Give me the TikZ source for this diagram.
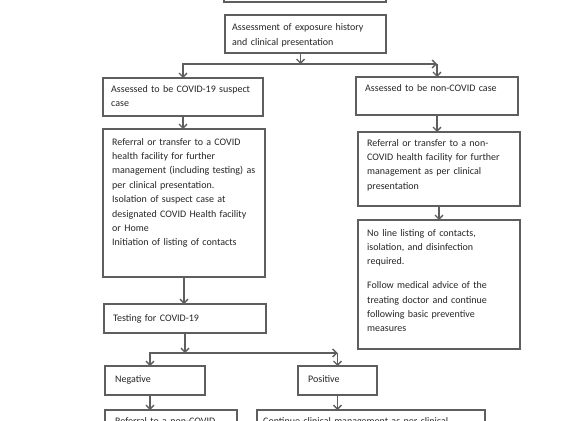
\documentclass[tikz,border=0pt]{standalone}
\usepackage{fontspec}
\setmainfont{Carlito}
\usetikzlibrary{arrows.meta}
\definecolor{ln}{HTML}{5E5E5E}
\definecolor{tx}{HTML}{262626}
\begin{document}
\begin{tikzpicture}[x=1pt,y=-1pt,
  box/.style={draw=ln, line width=1.4pt, inner sep=0pt, outer sep=0pt, anchor=north west},
  txt/.style={text=tx, inner sep=0pt, anchor=base west, text width=#1, align=left, font=\fontsize{10}{14.4}\selectfont},
  txt/.default=160pt,
  arr/.style={draw=ln, line width=1.3pt, -{Straight Barb[length=4pt,width=8pt]}}]
\useasboundingbox (0,0) rectangle (564,420);
\clip (0,0) rectangle (564,420);
\fill[white] (0,0) rectangle (564,420);

\node[box, minimum width=162, minimum height=30] (top) at (224,-28) {};
\node[box, minimum width=161, minimum height=38] (assess) at (225,15) {};
\node[txt=150pt] (tassess) at (232,31) {Assessment of exposure history\\and clinical presentation};

\node[box, minimum width=160, minimum height=38] (sus) at (103,78) {};
\node[txt] (tsus) at (111,92) {Assessed to be COVID-19 suspect\\case};
\node[box, minimum width=162, minimum height=38] (non) at (356,77) {};
\node[txt] (tnon) at (365,91) {Assessed to be non-COVID case};

\node[box, minimum width=162, minimum height=148] (ref1) at (103,129) {};
\node[txt] (tref1) at (112,145) {Referral or transfer to a COVID\\health facility for further\\management (including testing) as\\per clinical presentation.\\Isolation of suspect case at\\designated COVID Health facility\\or Home\\Initiation of listing of contacts};

\node[box, minimum width=162, minimum height=74] (ref2) at (358,132) {};
\node[txt] (tref2) at (367,146) {Referral or transfer to a non-\\COVID health facility for further\\management as per clinical\\presentation};

\node[box, minimum width=162, minimum height=129] (nolist) at (358,220) {};
\node[txt] (tnolist) at (367,236) {No line listing of contacts,\\isolation, and disinfection\\required.\\[9.5pt]Follow medical advice of the\\treating doctor and continue\\following basic preventive\\measures};

\node[box, minimum width=162, minimum height=29] (test) at (104,304) {};
\node[txt] (ttest) at (113,321) {Testing for COVID-19};

\node[box, minimum width=100, minimum height=29] (neg) at (105,366) {};
\node[txt=80pt] (tneg) at (115,382) {Negative};
\node[box, minimum width=79, minimum height=29] (pos) at (298,366) {};
\node[txt=60pt] (tpos) at (308,382) {Positive};

\node[box, minimum width=132, minimum height=40] (bl) at (105,410) {};
\node[txt=120pt] (tbl) at (115,424.5) {Referral to a non-COVID};
\node[box, minimum width=228, minimum height=40] (br) at (257,410) {};
\node[txt=220pt] (tbr) at (263,424.5) {Continue clinical management as per clinical};

\draw[arr] ([xshift=-5pt]assess.south) -- ++(0,11) coordinate (j1);
\draw[arr] (j1) -| (sus.north);
\draw[arr] (j1) -- (non.north |- j1);
\draw[arr] (non.north |- j1) -- (non.north);
\draw[arr] (sus.south) -- (sus.south |- ref1.north);
\draw[arr] (ref1.south) -- (ref1.south |- test.north);
\draw[arr] (test.south) -- ++(0,20) coordinate (j2);
\draw[arr] (j2) -| ([xshift=-5pt]neg.north);
\draw[arr] (j2) -- (pos.north |- j2);
\draw[arr] (pos.north |- j2) -- (pos.north);
\draw[arr] ([xshift=-5pt]neg.south) -- ([xshift=-5pt]neg.south |- bl.north);
\draw[arr] (pos.south) -- (pos.south |- br.north);
\draw[arr] (non.south) -- (non.south |- ref2.north);
\draw[arr] (ref2.south) -- (ref2.south |- nolist.north);
\end{tikzpicture}
\end{document}
